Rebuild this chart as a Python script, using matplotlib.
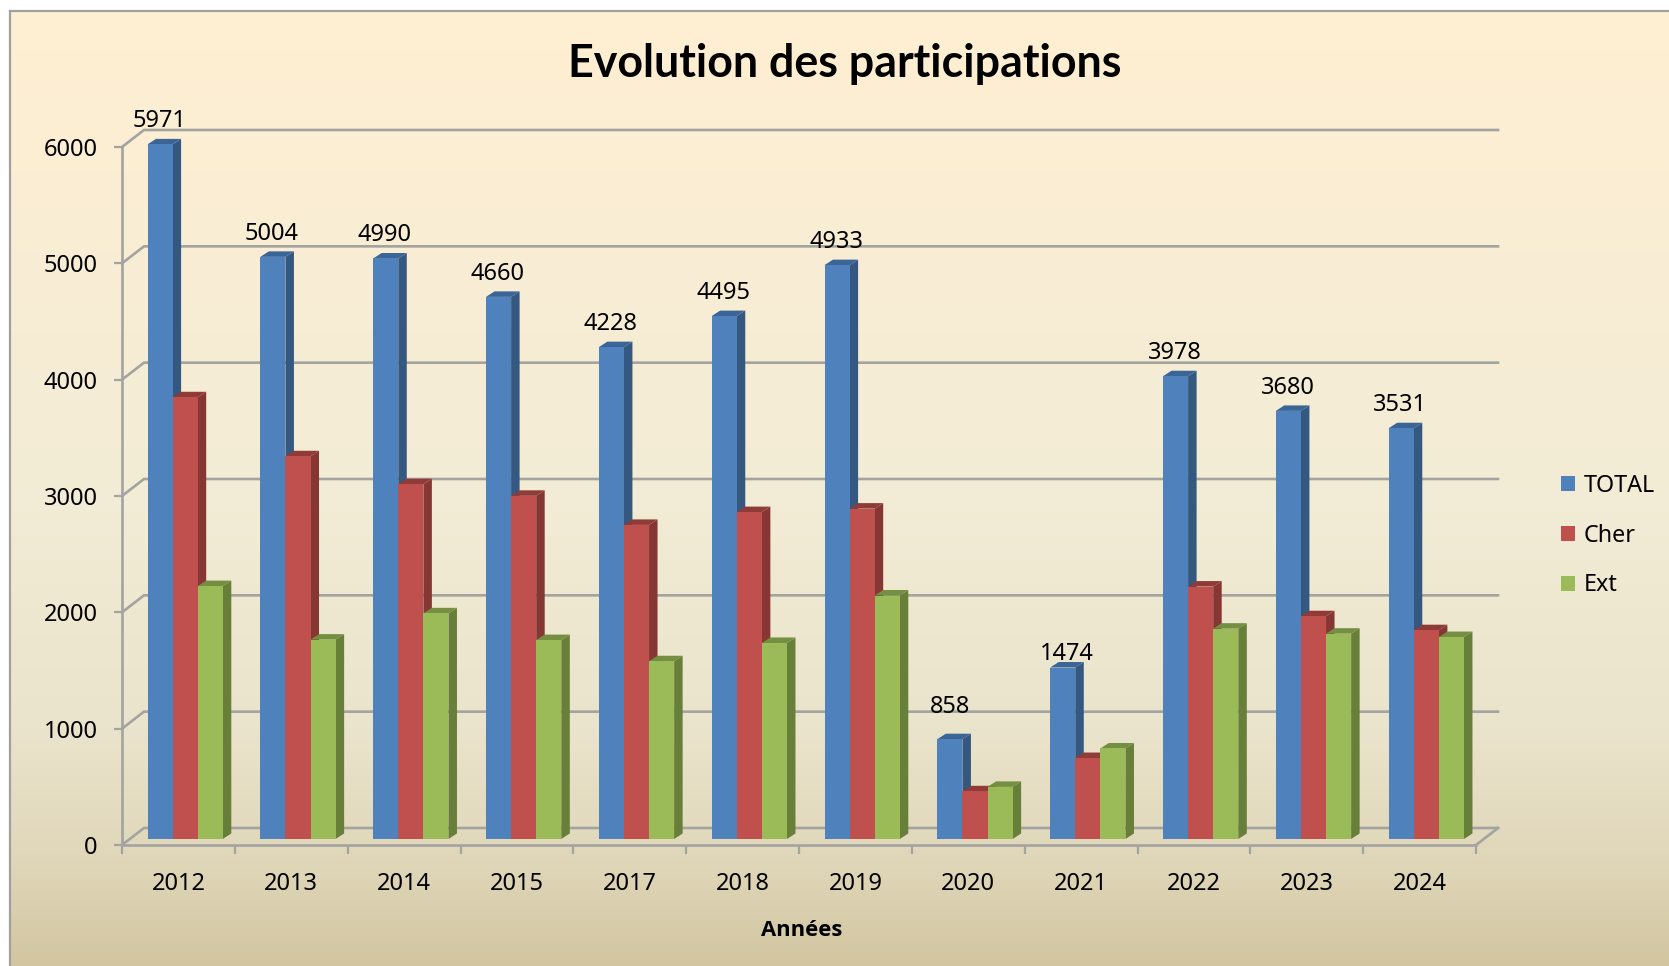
import numpy as np
import matplotlib.pyplot as plt
from matplotlib.colors import LinearSegmentedColormap
from matplotlib.patches import Patch
from matplotlib.transforms import ScaledTranslation

W, H = 1669, 966
DPI = 100

years = ['2012', '2013', '2014', '2015', '2017', '2018', '2019', '2020', '2021', '2022', '2023', '2024']
total = [5971, 5004, 4990, 4660, 4228, 4495, 4933, 858, 1474, 3978, 3680, 3531]
cher = [3797, 3290, 3050, 2950, 2700, 2810, 2840, 410, 696, 2170, 1915, 1795]
ext = [2174, 1714, 1940, 1710, 1528, 1685, 2093, 448, 778, 1808, 1765, 1736]
y_ticks = [0, 1000, 2000, 3000, 4000, 5000, 6000]

FACE = ['#4f81bd', '#c0504d', '#9bbb59']
SIDE = ['#34587f', '#863633', '#677f39']
TOP = ['#3b6596', '#8f3b38', '#748f41']
GRID = '#a3a3a0'
FONT = 'Noto Sans'
TEXT_SIZE = 17

# labels that were moved by hand in the original
LABEL_NUDGE = {'858': (1, 9), '1474': (5, -9)}

AX_L, AX_R, AX_T, AX_B = 122, 1476, 147, 845

plt.rcParams['font.family'] = FONT

fig = plt.figure(figsize=(W / DPI, H / DPI), dpi=DPI, facecolor='white')

# background gradient, runs off the right and bottom edge
bg = fig.add_axes([10 / W, 0, 1 - 10 / W, 1 - 11 / H])
cmap = LinearSegmentedColormap.from_list('bg', [
    (0.0, '#ffefd2'),
    (0.5, '#f3ecd6'),
    (0.75, '#ebe4cc'),
    (0.9, '#dfd6b8'),
    (1.0, '#d2c5a0'),
])
bg.imshow(np.linspace(0, 1, 256).reshape(-1, 1), aspect='auto', cmap=cmap)
bg.set_xticks([])
bg.set_yticks([])
for name, spine in bg.spines.items():
    spine.set_visible(name in ('left', 'top'))
    spine.set_color('#a0a0a0')
    spine.set_linewidth(1.6)

ax = fig.add_axes([AX_L / W, 1 - AX_B / H, (AX_R - AX_L) / W, (AX_B - AX_T) / H])
ax.patch.set_visible(False)
ax.set_xlim(0, len(years))
ax.set_ylim(0, 6000)

px_x = len(years) / (AX_R - AX_L)
px_y = 6000 / (AX_B - AX_T)

# walls, depth of the floor in px
back_x, back_y = 22 * px_x, 17 * px_y
x_end = len(years)
for v in y_ticks:
    ax.plot([0, back_x, x_end + back_x], [v, v + back_y, v + back_y],
            color=GRID, lw=1.9, clip_on=False, zorder=1, solid_joinstyle='miter')
ax.plot([x_end, x_end + back_x], [0, back_y], color=GRID, lw=1.9, clip_on=False, zorder=1)

# bars
bar_w = 25.1 * px_x
start = 25.5 * px_x
depth_x, depth_y = 8.5 * px_x, 5.5 * px_y
base = 6 * px_y
for i, series in enumerate([total, cher, ext]):
    z = 3 + i
    lefts = np.arange(len(years)) + start + i * bar_w
    ax.bar(lefts, series, width=bar_w, bottom=base, align='edge', color=FACE[i],
           linewidth=0, zorder=z + 0.1, clip_on=False)
    for left, v in zip(lefts, series):
        right = left + bar_w
        top = base + v
        ax.fill([right, right + depth_x, right + depth_x, right],
                [base, base + depth_y, top + depth_y, top],
                color=SIDE[i], lw=0, zorder=z, clip_on=False)
        ax.fill([left, left + depth_x, right + depth_x, right],
                [top, top + depth_y, top + depth_y, top],
                color=TOP[i], lw=0, zorder=z, clip_on=False)

for i, v in enumerate(total):
    nudge_x, nudge_y = LABEL_NUDGE.get(str(v), (0, 0))
    ax.annotate(str(v), (i + start + bar_w / 2, v + base), xytext=(-1 + nudge_x, 11 + nudge_y),
                textcoords='offset pixels', ha='center', va='bottom',
                fontsize=TEXT_SIZE, color='black', zorder=10, annotation_clip=False)

# axes
for name, spine in ax.spines.items():
    spine.set_visible(name in ('left', 'bottom'))
    spine.set_color(GRID)
    spine.set_linewidth(1.9)
    spine.set_zorder(2)

ax.set_yticks(y_ticks)
ax.tick_params(axis='y', length=5.5, width=1.6, color=GRID, pad=12, labelsize=TEXT_SIZE)
# y labels sit a bit under their ticks
shift_down = ScaledTranslation(0, -3 / DPI, fig.dpi_scale_trans)
for lab in ax.get_yticklabels():
    lab.set_va('center')
    lab.set_transform(lab.get_transform() + shift_down)
ax.set_xticks(np.arange(len(years) + 1))
ax.set_xticklabels([])
ax.tick_params(axis='x', which='major', length=6.5, width=1.6, color=GRID)
ax.set_xticks(np.arange(len(years)) + 0.5, minor=True)
ax.set_xticklabels(years, minor=True)
ax.tick_params(axis='x', which='minor', length=0, pad=19.5, labelsize=TEXT_SIZE)

fig.text(845 / W, 1 - 64 / H, 'Evolution des participations', family='Lato', weight='bold',
         fontsize=32.2, ha='center', va='center')
fig.text(802 / W, 1 - 931 / H, 'Années', family='Open Sans', weight='bold', fontsize=15.8,
         ha='center', va='center')

handles = [Patch(color=c, lw=0) for c in FACE]
fig.legend(handles, ['TOTAL', 'Cher', 'Ext'], frameon=False, fontsize=16.8,
           loc='upper left', bbox_to_anchor=(1561 / W, 1 - 474 / H), borderaxespad=0,
           borderpad=0, handlelength=0.6, handleheight=0.6, handletextpad=0.36,
           labelspacing=1.1)

fig.savefig('out.png', dpi=DPI)
